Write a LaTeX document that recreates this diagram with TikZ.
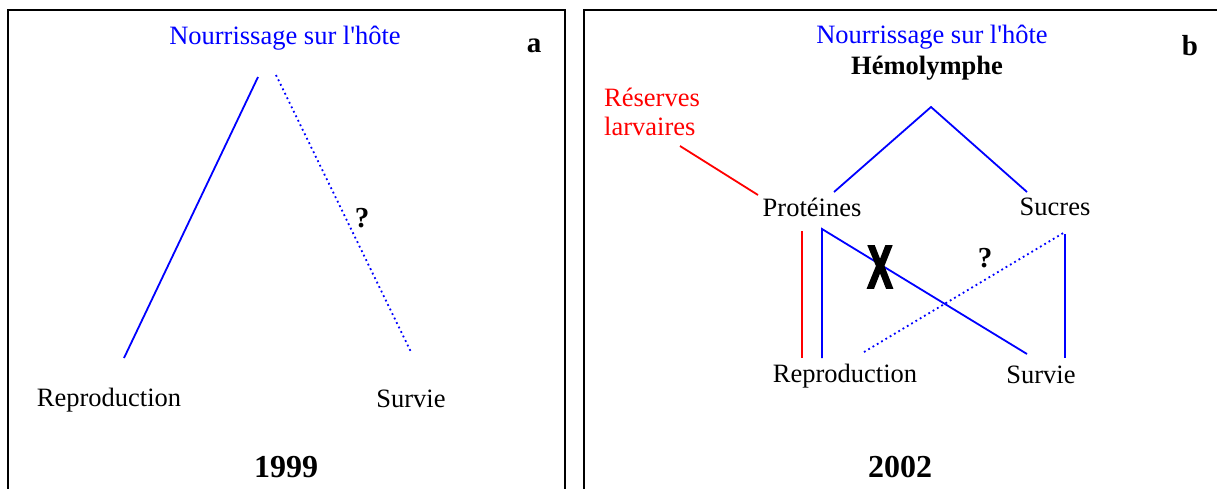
\documentclass[tikz,border=0pt]{standalone}
\usepackage{fontspec}
\setmainfont{Liberation Serif}
\newfontfamily\xsans[FakeBold=4]{Liberation Sans Bold}
\begin{document}
\begin{tikzpicture}[x=1pt,y=-1pt,
  txt/.style={inner sep=0pt,font=\fontsize{26.5}{30}\selectfont},
  btxt/.style={inner sep=0pt,font=\fontsize{26.5}{30}\selectfont\bfseries},
  yr/.style={inner sep=0pt,font=\fontsize{32}{36}\selectfont\bfseries},
  frame/.style={line width=2pt,black},
  bl/.style={line width=1.8pt,blue},
  bd/.style={line width=1.8pt,blue,dash pattern=on 1.8pt off 3.2pt},
  rd/.style={line width=1.8pt,red}]
\useasboundingbox (0,0) rectangle (1217,488);
\fill[white] (0,0) rectangle (1217,488);
% frames
\draw[frame] (8,489) -- (8,10) -- (565,10) -- (565,489);
\draw[frame] (584,489) -- (584,10) -- (1218,10);
% ---------- panel a
\node[txt,text=blue] (na) at (285,38) {Nourrissage sur l\textquotesingle hôte};
\node[btxt,font=\fontsize{29}{30}\selectfont\bfseries] (la) at (534,46) {a};
\node[txt] (ra) at (109,400) {Reproduction};
\node[txt] (sa) at (411,399) {Survie};
\node[btxt,font=\fontsize{29}{30}\selectfont\bfseries] (qa) at (362,218) {?};
\node[yr] (ya) at (286,467) {1999};
\coordinate (a1) at (258,77);
\coordinate (a2) at (124,358);
\coordinate (a3) at (276,75);
\coordinate (a4) at (411,352);
\draw[bl] (a1) -- (a2);
\draw[bd] (a3) -- (a4);
% ---------- panel b
\node[txt,text=blue] (nb) at (932,37) {Nourrissage sur l\textquotesingle hôte};
\node[btxt] (hb) at (927,68) {Hémolymphe};
\node[btxt,font=\fontsize{29}{30}\selectfont\bfseries] (lb) at (1190,46) {b};
\node[txt,text=red,align=left,anchor=north west,font=\fontsize{26.5}{29}\selectfont] (res) at (604,88) {Réserves\\larvaires};
\node[txt] (pr) at (812,207) {Protéines};
\node[txt] (su) at (1055,207) {Sucres};
\node[txt] (rb) at (845,376) {Reproduction};
\node[txt] (sb) at (1041,375) {Survie};
\node[btxt,font=\fontsize{29}{30}\selectfont\bfseries] (qb) at (985,258) {?};
\node[yr] (yb) at (900,467) {2002};
\coordinate (apex) at (931,107);
\coordinate (pt) at (834,192);
\coordinate (st) at (1027,192);
\coordinate (r1) at (680,146);
\coordinate (r2) at (758,195);
\coordinate (rv1) at (802,231);
\coordinate (rv2) at (802,358);
\coordinate (bv1) at (822,229);
\coordinate (bv2) at (822,358);
\coordinate (sv) at (1027,354);
\coordinate (d1) at (864,352);
\coordinate (d2) at (1065,232);
\coordinate (s1) at (1065,234);
\coordinate (s2) at (1065,358);
\draw[bl] (pt) -- (apex) -- (st);
\draw[rd] (r1) -- (r2);
\draw[rd] (rv1) -- (rv2);
\draw[bl] (bv2) -- (bv1) -- (sv);
\draw[bd] (d1) -- (d2);
\draw[bl] (s1) -- (s2);
\node[inner sep=0pt,xscale=0.62,font=\fontsize{60}{60}\selectfont\xsans] (xm) at (880,267) {X};
\end{tikzpicture}
\end{document}
